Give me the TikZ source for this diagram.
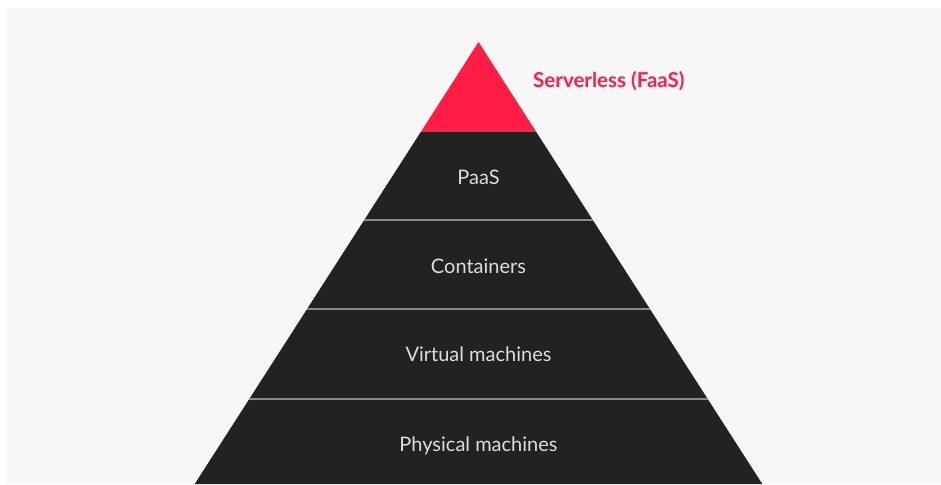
\documentclass[tikz,border=0pt]{standalone}
\usepackage{fontspec}
\setmainfont{Lato}
\definecolor{bgc}{HTML}{F7F7F7}
\definecolor{darkc}{HTML}{222222}
\definecolor{redc}{HTML}{FF1D45}
\definecolor{linec}{HTML}{8A8A8A}
\definecolor{txtc}{HTML}{DDDDDD}
\tikzset{
  layerlabel/.style={text=txtc, font=\fontsize{20}{24}\selectfont, inner sep=0pt, anchor=base},
  seplinestyle/.style={draw=linec, line width=1.6pt},
}
\begin{document}
\begin{tikzpicture}[x=1pt,y=-1pt]
\useasboundingbox (0,0) rectangle (941,484);
\fill[white] (0,0) rectangle (941,484);
\fill[bgc] (7,8) rectangle (941,484);
% pyramid: apex (478.5,42), half width = 0.642*(y-42)
\coordinate (apex) at (478.5,42);
\fill[redc] (apex) -- (421.4,131) -- (535.6,131) -- cycle;
\fill[darkc] (421.4,131) -- (535.6,131) -- (762.3,484) -- (194.7,484) -- cycle;
\coordinate (s0l) at (421.4,131); \coordinate (s0r) at (535.6,131);
\coordinate (s1l) at (364.3,220); \coordinate (s1r) at (592.7,220);
\coordinate (s2l) at (307.1,309); \coordinate (s2r) at (649.9,309);
\coordinate (s3l) at (249.3,399); \coordinate (s3r) at (707.7,399);
\draw[seplinestyle, draw=linec!70!darkc, line width=0.8pt] (s0l) -- (s0r);
\draw[seplinestyle] (s1l) -- (s1r);
\draw[seplinestyle] (s2l) -- (s2r);
\draw[seplinestyle] (s3l) -- (s3r);
\node[layerlabel] (paas) at (478.5,184) {PaaS};
\node[layerlabel] (cont) at (478.5,273.5) {Containers};
\node[layerlabel] (vm) at (478.5,361.5) {Virtual machines};
\node[layerlabel] (pm) at (478.5,451) {Physical machines};
\node[text=redc, font=\fontsize{20.5}{24}\selectfont\bfseries, inner sep=0pt, anchor=base west] (faas) at (533,88) {Serverless (FaaS)};
\end{tikzpicture}
\end{document}
